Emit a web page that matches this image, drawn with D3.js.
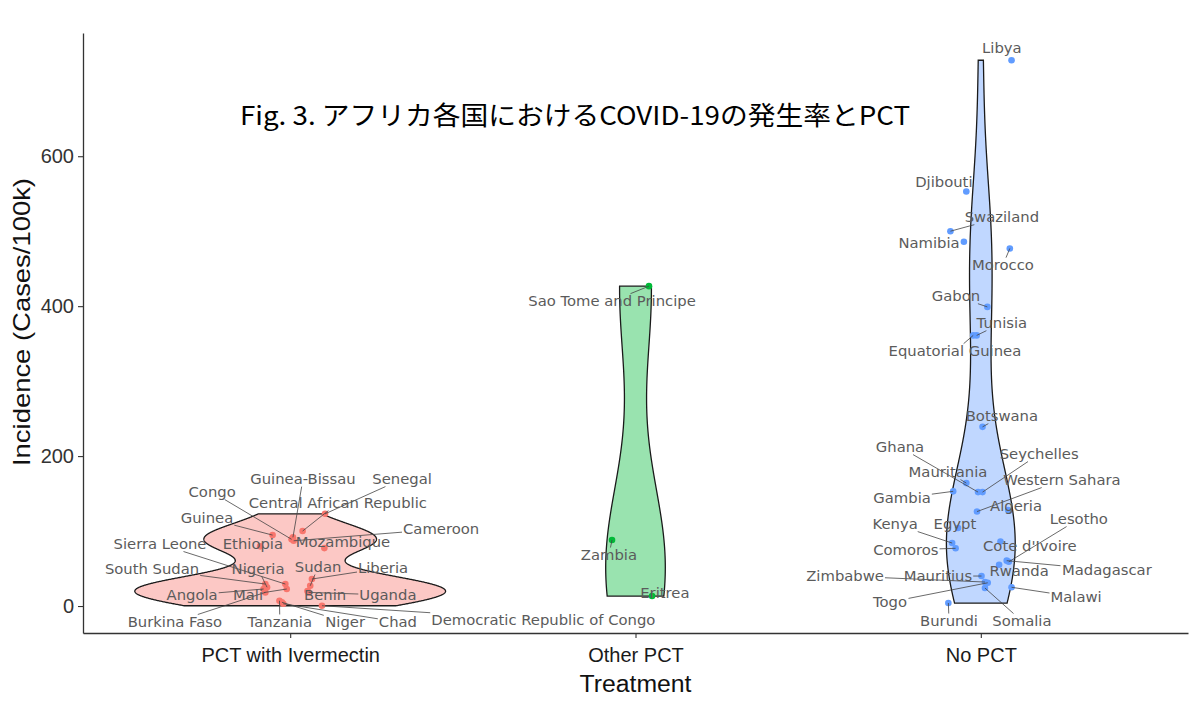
<!DOCTYPE html>
<html>
<head>
<meta charset="utf-8">
<script src="https://cdn.jsdelivr.net/npm/d3@7"></script>
<style>
body{margin:0;background:#fff}
</style>
</head>
<body>
<div id="chart"></div>
<script>

var groups = ["PCT with Ivermectin", "Other PCT", "No PCT"]
var groupColors = ["#F8766D", "#00BA38", "#619CFF"]
var yTicks = [0, 200, 400, 600]
var chartTitle = "Fig. 3. アフリカ各国におけるCOVID-19の発生率とPCT"

// [country, incidence (cases/100k), horizontal jitter in category units]
var ivermectin = [
	["Senegal", 123, 0.101],
	["Central African Republic", 100, 0.036],
	["Guinea", 94.6, -0.051],
	["Guinea-Bissau", 91.6, 0.008],
	["Congo", 89, 0.004],
	["Cameroon", 87, 0.01],
	["Ethiopia", 79.6, -0.087],
	["Mozambique", 77.3, 0.099],
	["Liberia", 36, 0.063],
	["South Sudan", 29.3, -0.072],
	["Sierra Leone", 29.3, -0.014],
	["Sudan", 27, 0.058],
	["Nigeria", 25, -0.067],
	["Angola", 22.7, -0.077],
	["Mali", 22.7, -0.01],
	["Benin", 20, 0.05],
	["Uganda", 18.2, 0.053],
	["Burkina Faso", 18.2, -0.072],
	["Tanzania", 7, -0.031],
	["Niger", 5, -0.024],
	["Chad", 3, -0.02],
	["Democratic Republic of Congo", 0.4, 0.092]
]

var otherPct = [
	["Sao Tome and Principe", 426.7, 0.039],
	["Zambia", 88, -0.068],
	["Eritrea", 13.3, 0.048]
]

var noPct = [
	["Libya", 728, 0.089],
	["Djibouti", 553, -0.042],
	["Swaziland", 500, -0.088],
	["Namibia", 486, -0.049],
	["Morocco", 477, 0.084],
	["Gabon", 399, 0.019],
	["Tunisia", 361, -0.012],
	["Equatorial Guinea", 361, -0.022],
	["Botswana", 239, 0.005],
	["Mauritania", 164, -0.042],
	["Gambia", 153, -0.08],
	["Ghana", 152, -0.008],
	["Seychelles", 152, 0.005],
	["Algeria", 128, 0.079],
	["Western Sahara", 126, -0.011],
	["Egypt", 104, -0.066],
	["Cote d'Ivoire", 86, 0.057],
	["Kenya", 84, -0.083],
	["Comoros", 77, -0.073],
	["Madagascar", 60.5, 0.075],
	["Lesotho", 59, 0.081],
	["Rwanda", 55, 0.053],
	["Mauritius", 40, 0.002],
	["Zimbabwe", 32, 0.012],
	["Togo", 31, 0.02],
	["Malawi", 25, 0.089],
	["Somalia", 24, 0.012],
	["Burundi", 4, -0.094]
]

// where the repelled labels ended up: [offset from category in category units, incidence]
var labelSpots = {
	"Guinea-Bissau": [0.037, 169.3], "Senegal": [0.324, 169.3], "Congo": [-0.226, 152],
	"Central African Republic": [0.138, 137.3], "Guinea": [-0.241, 117.3], "Cameroon": [0.437, 102.7],
	"Sierra Leone": [-0.377, 82.7], "Ethiopia": [-0.108, 82.7], "Mozambique": [0.153, 85.3],
	"South Sudan": [-0.4, 49.3], "Nigeria": [-0.093, 49.3], "Sudan": [0.081, 52], "Liberia": [0.269, 50.7],
	"Angola": [-0.284, 14.7], "Mali": [-0.122, 14.7], "Benin": [0.101, 14.7], "Uganda": [0.283, 14.7],
	"Burkina Faso": [-0.334, -21.3], "Tanzania": [-0.03, -21.3], "Niger": [0.159, -21.3], "Chad": [0.312, -21.3],
	"Democratic Republic of Congo": [0.733, -18.7],
	"Sao Tome and Principe": [-0.068, 406.7], "Zambia": [-0.077, 68], "Eritrea": [0.085, 17.3],
	"Libya": [0.061, 744], "Djibouti": [-0.107, 565.3], "Swaziland": [0.061, 518.7], "Namibia": [-0.15, 484],
	"Morocco": [0.064, 454.7], "Gabon": [-0.072, 413.3], "Tunisia": [0.061, 377.3],
	"Equatorial Guinea": [-0.075, 340], "Botswana": [0.061, 253.3], "Ghana": [-0.234, 212],
	"Seychelles": [0.169, 202.7], "Mauritania": [-0.095, 178.7], "Western Sahara": [0.235, 168],
	"Gambia": [-0.228, 144], "Algeria": [0.102, 133.3], "Lesotho": [0.284, 116], "Kenya": [-0.248, 109.3],
	"Egypt": [-0.075, 109.3], "Cote d'Ivoire": [0.142, 80], "Comoros": [-0.217, 74.7],
	"Madagascar": [0.365, 48], "Rwanda": [0.111, 46.7], "Zimbabwe": [-0.393, 40], "Mauritius": [-0.124, 40],
	"Malawi": [0.276, 12], "Togo": [-0.263, 5.3], "Burundi": [-0.092, -20], "Somalia": [0.119, -20]
}

var width = 1200, height = 701
var panel = {left: 83, right: 1188, top: 33, bottom: 633}
var sans = "'Liberation Sans', Arial, sans-serif"

var series = [ivermectin, otherPct, noPct]
var points = []
series.forEach(function(rows, gi){
	rows.forEach(function(r){
		points.push({country: r[0], value: r[1], jitter: r[2], group: groups[gi], gi: gi})
	})
})

// ggplot style 5% expansion on the data range
var vmin = d3.min(points, function(d){return d.value})
var vmax = d3.max(points, function(d){return d.value})
var pad = (vmax - vmin) * 0.05

var xScale = d3.scalePoint()
	.domain(groups)
	.range([panel.left, panel.right])
	.padding(0.6)

var yScale = d3.scaleLinear()
	.domain([vmin - pad, vmax + pad])
	.range([panel.bottom, panel.top])

var step = xScale.step()

var svg = d3.select("#chart").append("svg")
	.attr("width", width)
	.attr("height", height)
	.style("font-family", sans)

// gaussian kde with bw.nrd0, evaluated over the data range (trim = TRUE)
function density(vals){
	var s = vals.slice().sort(d3.ascending)
	var n = s.length
	var sd = d3.deviation(s)
	var iqr = d3.quantile(s, 0.75) - d3.quantile(s, 0.25)
	var lo = Math.min(sd, iqr / 1.34)
	var bw = 0.9 * lo * Math.pow(n, -0.2)
	var a = s[0], b = s[n - 1]
	return d3.range(512).map(function(i){
		var v = a + (b - a) * i / 511
		var d = d3.sum(s, function(xi){ var z = (v - xi) / bw; return Math.exp(-0.5 * z * z) })
		return {v: v, d: d / (n * bw * Math.sqrt(2 * Math.PI))}
	})
}

var dens = series.map(function(rows){ return density(rows.map(function(r){return r[1]})) })
var maxDens = d3.max(dens, function(g){ return d3.max(g, function(p){return p.d}) })

var violins = svg.append("g")
dens.forEach(function(g, gi){
	var cx = xScale(groups[gi])
	var right = g.map(function(p){ return [cx + 0.45 * step * p.d / maxDens, yScale(p.v)] })
	var left = g.slice().reverse().map(function(p){ return [cx - 0.45 * step * p.d / maxDens, yScale(p.v)] })
	violins.append("path")
		.attr("d", d3.line()(right.concat(left)) + "Z")
		.attr("fill", groupColors[gi])
		.attr("fill-opacity", 0.4)
		.attr("stroke", "#1a1a1a")
		.attr("stroke-width", 1.3)
})

svg.append("g").selectAll("circle")
	.data(points).enter()
	.append("circle")
	.attr("cx", function(d){ return xScale(d.group) + d.jitter * step })
	.attr("cy", function(d){ return yScale(d.value) })
	.attr("r", 3.3)
	.attr("fill", function(d){ return groupColors[d.gi] })

// axes
var yAxis = svg.append("g")
	.attr("transform", "translate(" + panel.left + ",0)")
	.call(d3.axisLeft(yScale).tickValues(yTicks).tickSize(5).tickSizeOuter(0).tickPadding(4))
var xAxis = svg.append("g")
	.attr("transform", "translate(0," + panel.bottom + ")")
	.call(d3.axisBottom(xScale).tickSize(5).tickSizeOuter(0).tickPadding(10))

svg.selectAll(".domain").attr("stroke", "#333").attr("stroke-width", 1.3)
svg.selectAll(".tick line").attr("stroke", "#333").attr("stroke-width", 1.1)
yAxis.selectAll("text").attr("font-size", 20).attr("fill", "#333").attr("font-family", sans)
xAxis.selectAll("text").attr("font-size", 20).attr("fill", "#1a1a1a").attr("font-family", sans)

svg.append("text")
	.attr("x", (panel.left + panel.right) / 2)
	.attr("y", 692)
	.attr("text-anchor", "middle")
	.attr("font-size", 23)
	.attr("textLength", 112)
	.attr("lengthAdjust", "spacingAndGlyphs")
	.attr("fill", "#111")
	.text("Treatment")

svg.append("text")
	.attr("transform", "translate(30," + 322 + ") rotate(-90)")
	.attr("text-anchor", "middle")
	.attr("font-size", 24)
	.attr("textLength", 288)
	.attr("lengthAdjust", "spacingAndGlyphs")
	.attr("fill", "#111")
	.text("Incidence (Cases/100k)")

svg.append("text")
	.attr("x", 240)
	.attr("y", 125)
	.attr("font-size", 26)
	.attr("textLength", 670)
	.attr("lengthAdjust", "spacingAndGlyphs")
	.attr("fill", "#000")
	.style("font-family", "'Noto Sans CJK JP', sans-serif")
	.text(chartTitle)

// repelled labels with segments to their points
var labelLayer = svg.append("g")
var segLayer = labelLayer.append("g")
points.forEach(function(d){
	var spot = labelSpots[d.country]
	var lx = xScale(d.group) + spot[0] * step
	var ly = yScale(spot[1])
	var t = labelLayer.append("text")
		.attr("x", lx)
		.attr("y", ly)
		.attr("dy", "0.35em")
		.attr("text-anchor", "middle")
		.attr("font-size", 14.8)
		.attr("fill", "#5b5b5b")
		.style("font-family", "'DejaVu Sans', sans-serif")
		.text(d.country)
	var bb = t.node().getBBox()
	var px = xScale(d.group) + d.jitter * step
	var py = yScale(d.value)
	var hw = bb.width / 2 + 1, hh = bb.height / 2 - 1
	var dx = px - lx, dy = py - ly
	if (Math.abs(dx) <= hw && Math.abs(dy) <= hh) return
	var s = Math.min(dx !== 0 ? hw / Math.abs(dx) : Infinity, dy !== 0 ? hh / Math.abs(dy) : Infinity)
	var sx = lx + dx * s, sy = ly + dy * s
	if (Math.hypot(px - sx, py - sy) < 6) return
	segLayer.append("line")
		.attr("x1", sx).attr("y1", sy)
		.attr("x2", px).attr("y2", py)
		.attr("stroke", "#444")
		.attr("stroke-width", 0.8)
})

</script>
</body>
</html>
